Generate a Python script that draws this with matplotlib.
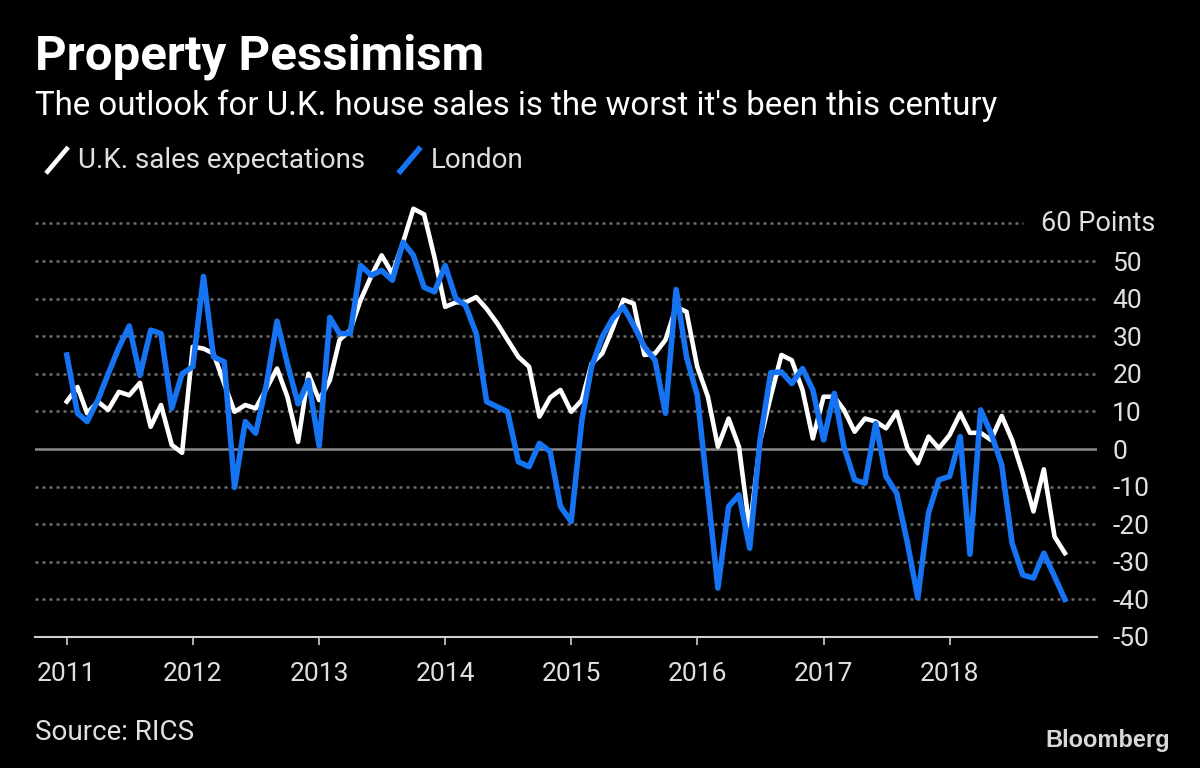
import matplotlib
matplotlib.use("Agg")
import matplotlib.pyplot as plt
import matplotlib.dates as mdates
import matplotlib.transforms as mtransforms
from matplotlib.legend_handler import HandlerBase
from matplotlib.lines import Line2D
import pandas as pd

# RICS sales expectations, monthly Jan 2011 - Dec 2018 (net balance)
uk_sales = [
    12.6, 16.5, 9.5, 12.6, 10.4, 15.2, 14.3, 17.6, 5.9, 11.7, 1.1, -1.0,
    27.2, 26.7, 25.4, 17.4, 9.9, 11.7, 10.8, 16.0, 21.4, 13.9, 1.9, 20.0,
    13.0, 18.3, 29.0, 31.6, 39.6, 46.0, 51.5, 46.6, 55.0, 63.9, 62.4, 51.0,
    37.8, 39.0, 39.0, 40.4, 37.3, 33.4, 29.0, 24.5, 21.9, 8.6, 13.7, 15.7,
    9.9, 13.0, 22.7, 25.4, 32.0, 39.7, 38.7, 25.0, 25.4, 29.0, 37.8, 36.5,
    21.9, 13.9, 0.6, 8.1, 0.6, -21.5, 2.0, 14.0, 25.0, 23.6, 15.7, 2.8,
    13.9, 13.9, 10.4, 4.6, 8.1, 7.3, 5.5, 9.9, 0.2, -3.8, 3.3, 0.2,
    3.7, 9.5, 4.3, 4.3, 2.4, 8.8, 2.4, -6.5, -16.6, -5.4, -23.3, -27.7,
]
london = [
    25.0, 9.5, 7.3, 13.0, 20.0, 27.0, 32.7, 19.6, 31.6, 30.7, 10.8, 20.0,
    21.9, 45.9, 24.5, 23.2, -10.2, 7.3, 4.2, 17.0, 34.0, 22.7, 12.0, 18.3,
    0.8, 35.0, 30.7, 30.7, 48.8, 46.2, 47.5, 44.9, 55.0, 51.5, 43.0, 41.8,
    48.8, 40.0, 38.2, 30.7, 12.6, 11.2, 9.9, -3.4, -4.7, 1.5, -0.7, -15.3,
    -19.3, 7.7, 21.9, 29.8, 34.7, 37.8, 32.9, 27.2, 23.6, 9.5, 42.4, 24.5,
    14.3, -11.8, -37.0, -15.3, -12.2, -26.4, 2.4, 20.3, 20.5, 17.4, 21.4, 15.7,
    2.4, 14.8, 0.6, -8.2, -9.1, 6.8, -7.3, -11.8, -25.0, -39.6, -17.0, -8.2,
    -7.3, 3.3, -28.0, 10.4, 4.2, -4.2, -25.0, -33.5, -34.3, -27.7, -33.9, -40.0,
]
dates = pd.date_range("2011-01-01", periods=len(uk_sales), freq="MS")
years = list(range(2011, 2019))
y_ticks = [50, 40, 30, 20, 10, 0, -10, -20, -30, -40, -50]
grid_levels = [60, 50, 40, 30, 20, 10, -10, -20, -30, -40]

BG = "black"
TEXT = "#e0e0e0"
WHITE = "white"
BLUE = "#1673f2"
GRID = "#6e6e6e"

plt.rcParams["font.family"] = ["Roboto", "DejaVu Sans"]


class SlashHandler(HandlerBase):
    """Legend key drawn as a short slanted stroke."""

    def create_artists(self, legend, orig_handle, xdescent, ydescent,
                       width, height, fontsize, trans):
        x0, y0 = -xdescent, -ydescent - height * 0.25
        line = Line2D([x0, x0 + width], [y0, y0 + height * 1.35],
                      color=orig_handle.get_color(),
                      linewidth=orig_handle.get_linewidth(),
                      solid_capstyle="butt", transform=trans)
        return [line]


fig = plt.figure(figsize=(12, 7.68), dpi=100, facecolor=BG)
ax = fig.add_axes([35 / 1200, 1 - 637 / 768, (1097 - 35) / 1200, (637 - 204.6) / 768])
ax.set_facecolor(BG)

ax.set_ylim(-50, 65)
ax.set_xlim(pd.Timestamp("2010-10-01"), pd.Timestamp("2019-03-04"))

# grid
for lvl in grid_levels:
    ax.axhline(lvl, xmin=0, xmax=0.93 if lvl == 60 else 1, color=GRID,
               linewidth=1.8, linestyle=(0, (1.2, 1.6)), zorder=1)
ax.axhline(0, color="#8a8a8a", linewidth=1.8, zorder=1)

uk_line, = ax.plot(dates, uk_sales, color=WHITE, linewidth=3.3, zorder=3,
                   label="U.K. sales expectations")
ldn_line, = ax.plot(dates, london, color=BLUE, linewidth=4.0, zorder=4,
                    label="London")

# spines
for side in ["top", "right", "left"]:
    ax.spines[side].set_visible(False)
ax.spines["bottom"].set_color("#d0d0d0")
ax.spines["bottom"].set_linewidth(1.5)

# x axis
ax.set_xticks([pd.Timestamp(f"{y}-01-01") for y in years])
ax.xaxis.set_major_formatter(mdates.DateFormatter("%Y"))
ax.tick_params(axis="x", direction="out", length=6, width=1.2, color="#d0d0d0",
               labelcolor=TEXT, labelsize=19, pad=12)

# y axis on the right
ax.yaxis.tick_right()
ax.set_yticks(y_ticks)
ax.set_yticklabels([str(v) for v in y_ticks])
ax.tick_params(axis="y", length=0, labelcolor=TEXT, labelsize=19, pad=11)
unit_tf = mtransforms.blended_transform_factory(fig.transFigure, ax.transData)
ax.text(1155 / 1200, 60, "60 Points", transform=unit_tf, ha="right", va="center",
        color=TEXT, fontsize=19.5)

# titles
fig.text(35 / 1200, 1 - 57 / 768, "Property Pessimism", color=WHITE,
         fontsize=35.5, fontweight="bold", va="center", ha="left")
fig.text(35 / 1200, 1 - 106 / 768,
         "The outlook for U.K. house sales is the worst it's been this century",
         color=WHITE, fontsize=23.8, va="center", ha="left")

fig.legend(handles=[uk_line, ldn_line], loc="center left",
           bbox_to_anchor=(46 / 1200, 1 - 161 / 768), ncol=2, frameon=False,
           fontsize=20, labelcolor=TEXT, handlelength=0.8, handletextpad=0.35,
           columnspacing=1.2, borderaxespad=0, borderpad=0,
           handler_map={Line2D: SlashHandler()})

fig.text(35 / 1200, 1 - 732 / 768, "Source: RICS", color=TEXT, fontsize=20,
         va="center", ha="left")
fig.text(1170 / 1200, 1 - 741 / 768, "Bloomberg", color="#d8d8d8", fontsize=17,
         fontweight="bold", va="center", ha="right", family="Liberation Sans")

fig.savefig("out.png", dpi=100, facecolor=BG)
